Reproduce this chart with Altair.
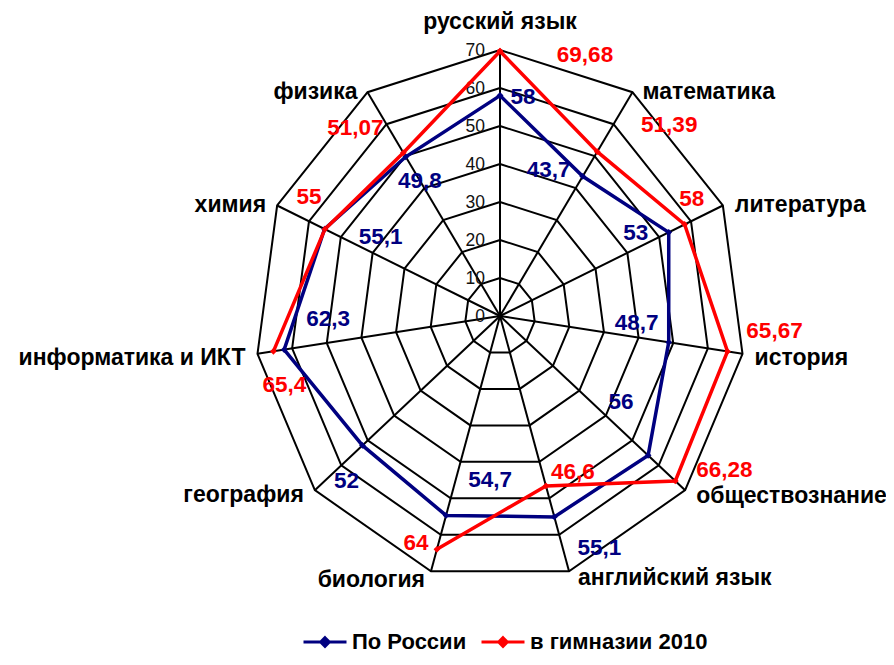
import altair as alt
import pandas as pd

# ---- data ----
categories = ["русский язык", "математика", "литература", "история", "обществознание",
              "английский язык", "биология", "география", "информатика и ИКТ", "химия", "физика"]
russia = [58, 43.7, 53, 48.7, 56, 55.1, 54.7, 52, 62.3, 55.1, 49.8]
gymnasium = [69.68, 51.39, 58, 65.67, 66.28, 46.6, 64, None, 65.4, 55, 51.07]
series_names = ["По России", "в гимназии 2010"]
ticks = [0, 10, 20, 30, 40, 50, 60, 70]

# ---- layout (pixel offsets of labels) ----
russia_label_dx = [23, -34, -33, -32, -27, 45, 44, -16, 44, 56, 14]
russia_label_dy = [1, -6, 1, -19, -53, 31, -35, 36, -31, 8, 24]
gym_label_dx = [85, 72, 7, 47, 49, 27, -21, 0, 11, -16, -48]
gym_label_dy = [4, -27, -25, -21, -11, -14, -6, 0, 34, -32, -25]
cat_label_dx = [0, 10, 12, 12, 11, 9, -6, -11, -12, -11, -10]
cat_label_dy = [-28, 0, 0, 4, 6, 7, 9, 5, 4, 0, 0]

N = len(categories)
RMAX = 70
W, H = 490, 532
PXX = W / (2 * RMAX)
PXY = H / (2 * RMAX)
colors = ["#000080", "#FF0000"]
FONT = "Liberation Sans"

rows = []
for s, vals, dxs, dys in [(series_names[0], russia, russia_label_dx, russia_label_dy),
                          (series_names[1], gymnasium, gym_label_dx, gym_label_dy)]:
    for i in range(N + 1):
        k = i % N
        rows.append({"series": s, "order": i, "idx": k, "category": categories[k],
                     "value": vals[k], "ldx": dxs[k], "ldy": dys[k]})
df = pd.DataFrame(rows)

grid_df = pd.DataFrame([{"ring": r, "order": i, "idx": i % N}
                        for r in ticks[1:] for i in range(N + 1)])
spoke_df = pd.DataFrame({"idx": list(range(N)), "category": categories,
                         "cdx": cat_label_dx, "cdy": cat_label_dy})
tick_df = pd.DataFrame({"tick": ticks})

ANG = f"datum.idx * 2 * PI / {N}"


def sc():
    return alt.Scale(domain=[-RMAX, RMAX], nice=False, zero=False)


X = alt.X("x:Q", scale=sc(), axis=None)
Y = alt.Y("y:Q", scale=sc(), axis=None)
color_scale = alt.Scale(domain=series_names, range=colors)

rings = alt.Chart(grid_df).transform_calculate(
    ang=ANG,
    x="datum.ring * sin(datum.ang)",
    y="datum.ring * cos(datum.ang)",
).mark_line(color="black", strokeWidth=2).encode(
    x=X, y=Y, detail="ring:N", order="order:Q")

spokes = alt.Chart(spoke_df).transform_calculate(
    ang=ANG,
    x0="0", y0="0",
    x=f"{RMAX} * sin(datum.ang)",
    y=f"{RMAX} * cos(datum.ang)",
).mark_rule(color="black", strokeWidth=2).encode(
    x=alt.X("x0:Q", scale=sc(), axis=None),
    y=alt.Y("y0:Q", scale=sc(), axis=None),
    x2="x:Q", y2="y:Q")

tick_labels = alt.Chart(tick_df).transform_calculate(
    x="0", y="datum.tick", lbl="toString(datum.tick)"
).mark_text(align="right", baseline="middle", dx=-15, dy=1, font=FONT, fontSize=17.5,
            color="#111111").encode(x=X, y=Y, text="lbl:N")

base = alt.Chart(df).transform_calculate(
    ang=ANG,
    x="isValid(datum.value) ? datum.value * sin(datum.ang) : null",
    y="isValid(datum.value) ? datum.value * cos(datum.ang) : null",
)

lines = base.mark_line(strokeWidth=3.5, invalid="break-paths-filter-domains").encode(
    x=X, y=Y, order="order:Q",
    color=alt.Color("series:N", scale=color_scale, legend=alt.Legend(
        title=None, orient="none", legendX=47, legendY=569, direction="horizontal",
        symbolType="M-1,0L1,0M0,-0.2L0.2,0L0,0.2L-0.2,0Z", symbolSize=1849,
        symbolStrokeWidth=3, labelFont=FONT, labelFontSize=22, labelFontWeight="bold",
        labelColor="black", labelLimit=0, columnPadding=8, labelOffset=4, padding=0)))

points = base.transform_filter("isValid(datum.value)").mark_point(
    shape="diamond", filled=True, size=45, opacity=1).encode(
    x=X, y=Y, color=alt.Color("series:N", scale=color_scale, legend=None))

value_labels = base.transform_filter(
    f"isValid(datum.value) && datum.order < {N}"
).transform_calculate(
    lx=f"datum.x + datum.ldx / {PXX}",
    ly=f"datum.y - datum.ldy / {PXY}",
    txt="replace(toString(datum.value), '.', ',')",
).mark_text(align="center", baseline="middle", font=FONT, fontSize=22.5,
            fontWeight="bold").encode(
    x=alt.X("lx:Q", scale=sc(), axis=None),
    y=alt.Y("ly:Q", scale=sc(), axis=None),
    text="txt:N",
    color=alt.Color("series:N", scale=color_scale, legend=None))


def cat_layer(cond, align):
    return alt.Chart(spoke_df).transform_filter(cond).transform_calculate(
        ang=ANG,
        x=f"{RMAX} * sin(datum.ang) + datum.cdx / {PXX}",
        y=f"{RMAX} * cos(datum.ang) - datum.cdy / {PXY}",
    ).mark_text(align=align, baseline="middle", font=FONT, fontSize=23,
                fontWeight="bold", color="black").encode(x=X, y=Y, text="category:N")


cat_center = cat_layer("datum.idx == 0", "center")
cat_left = cat_layer(f"datum.idx > 0 && datum.idx <= {N // 2}", "left")
cat_right = cat_layer(f"datum.idx > {N // 2}", "right")

chart = alt.layer(
    rings, spokes, tick_labels, lines, points, value_labels, cat_center, cat_left, cat_right
).properties(
    width=W, height=H,
    autosize=alt.AutoSizeParams(type="none"),
    padding={"left": 247, "top": 42, "right": 141, "bottom": 75},
).configure_view(stroke=None)

chart.save("out.html", embed_options={"renderer": "svg", "actions": False})
